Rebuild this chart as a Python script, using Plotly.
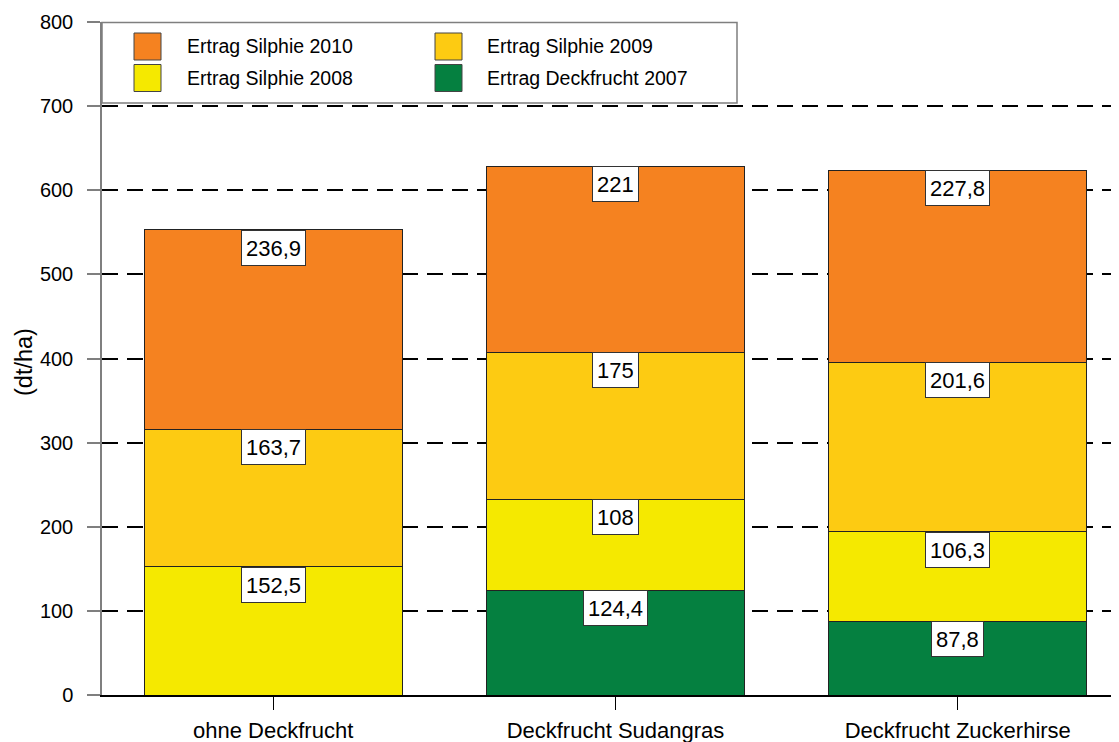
import plotly.graph_objects as go

categories = ["ohne Deckfrucht", "Deckfrucht Sudangras", "Deckfrucht Zuckerhirse"]
deckfrucht_2007 = [None, 124.4, 87.8]
silphie_2008 = [152.5, 108, 106.3]
silphie_2009 = [163.7, 175, 201.6]
silphie_2010 = [236.9, 221, 227.8]
y_ticks = [0, 100, 200, 300, 400, 500, 600, 700, 800]

series = [
    ("Ertrag Deckfrucht 2007", deckfrucht_2007, "#058040"),
    ("Ertrag Silphie 2008", silphie_2008, "#F5E900"),
    ("Ertrag Silphie 2009", silphie_2009, "#FDCB12"),
    ("Ertrag Silphie 2010", silphie_2010, "#F58220"),
]

FONT = "Arial, Liberation Sans, sans-serif"

# page offset of the figure (default body margin)
OFF = 8
FIG_W, FIG_H = 1119 - OFF, 742 - OFF
# plot area in page pixels
L, R, T, B = 102, 1119, 22, 695
W, H = R - L, B - T


def px(x):
    return (x - L) / W


def py(y):
    return (B - y) / H


fig = go.Figure()
for name, vals, color in series:
    fig.add_trace(go.Bar(
        x=categories, y=vals, name=name, width=0.753,
        marker=dict(color=color, line=dict(color="#222222", width=1)),
        showlegend=False,
    ))

annotations = []
cum = [0.0] * len(categories)
for name, vals, color in series:
    for i, v in enumerate(vals):
        if v is None:
            continue
        cum[i] += v
        annotations.append(dict(
            x=categories[i], y=cum[i], xref="x", yref="y",
            text=f"{v:g}".replace(".", ","), showarrow=False,
            yanchor="top", xanchor="center",
            font=dict(family=FONT, size=22, color="black"),
            bgcolor="white", bordercolor="#333333", borderwidth=1,
            borderpad=4, height=26,
        ))

# y axis title
annotations.append(dict(
    x=px(24), y=py(362), xref="paper", yref="paper", text="(dt/ha)",
    textangle=-90, showarrow=False, xanchor="center", yanchor="middle",
    font=dict(family=FONT, size=23.5, color="black"),
))

shapes = []
# legend box
shapes.append(dict(type="rect", xref="paper", yref="paper",
                   x0=px(102), x1=px(737), y0=py(103), y1=py(22.5),
                   fillcolor="white", line=dict(color="#7f7f7f", width=1.5),
                   layer="above"))
legend_items = [
    ("Ertrag Silphie 2010", "#F58220", 134, 185, 46.5),
    ("Ertrag Silphie 2009", "#FDCB12", 435, 485, 46.5),
    ("Ertrag Silphie 2008", "#F5E900", 134, 185, 78),
    ("Ertrag Deckfrucht 2007", "#058040", 435, 485, 78),
]
for text, color, sx, tx, cy in legend_items:
    shapes.append(dict(type="rect", xref="paper", yref="paper",
                       x0=px(sx), x1=px(sx + 27), y0=py(cy + 13.5), y1=py(cy - 13.5),
                       fillcolor=color, line=dict(color="#444444", width=1),
                       layer="above"))
    annotations.append(dict(
        x=px(tx), y=py(cy), xref="paper", yref="paper", text=text,
        showarrow=False, xanchor="left", yanchor="middle",
        font=dict(family=FONT, size=19.5, color="black"),
    ))

fig.update_layout(
    width=FIG_W, height=FIG_H,
    margin=dict(l=L - OFF, r=1119 - R, t=T - OFF, b=742 - B, pad=0),
    paper_bgcolor="white", plot_bgcolor="white",
    barmode="stack", bargap=0.247,
    annotations=annotations, shapes=shapes,
    showlegend=False,
    xaxis=dict(
        range=[-0.5, 2.471], showgrid=False, zeroline=False,
        showline=True, linecolor="black", linewidth=1.5,
        ticks="outside", ticklen=13, tickcolor="black", tickwidth=1,
        tickfont=dict(family=FONT, size=22, color="black"),
        ticklabelstandoff=2,
    ),
    yaxis=dict(
        range=[0, 800], tickvals=y_ticks, showgrid=True,
        gridcolor="black", gridwidth=2, griddash="16px,9px",
        zeroline=False, showline=True, linecolor="#7f7f7f", linewidth=1.5,
        ticks="outside", ticklen=13, tickcolor="#7f7f7f", tickwidth=1.5,
        tickfont=dict(family=FONT, size=20, color="black"),
        ticklabelstandoff=10,
    ),
)

fig.write_html("out.html")
